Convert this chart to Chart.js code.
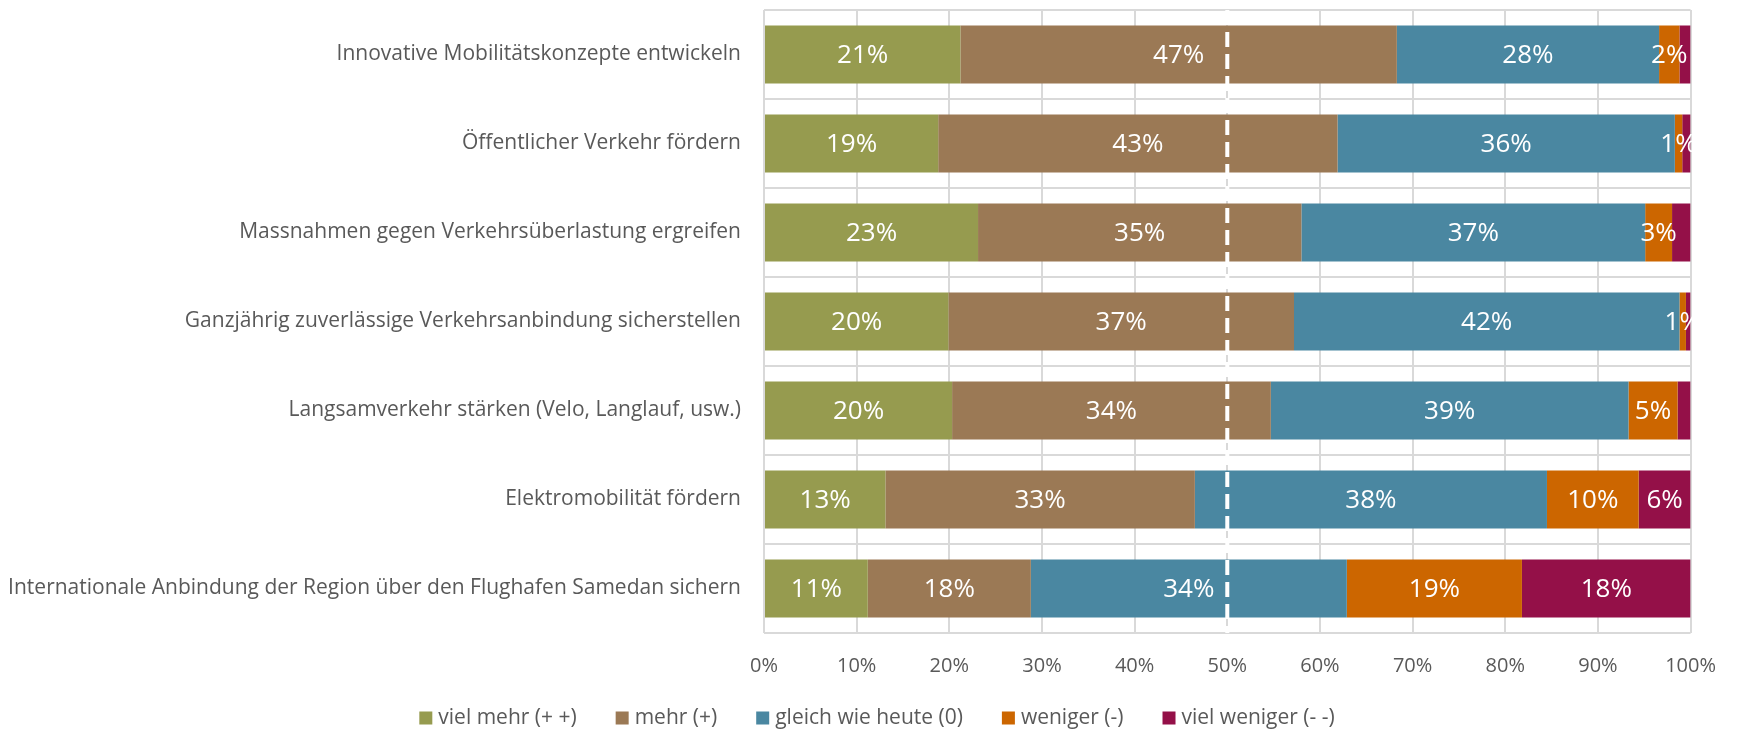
<!DOCTYPE html>
<html>
<head>
<meta charset="utf-8">
<script src="https://cdn.jsdelivr.net/npm/chart.js@4.4.1/dist/chart.umd.min.js"></script>
<style>
  html, body { margin: 0; padding: 0; background: #ffffff; }
  #wrap { width: 1737px; height: 731px; }
</style>
</head>
<body>
<div id="wrap"><canvas id="c" width="1737" height="731"></canvas></div>
<script>
// ---- data ----
const categories = [
  'Innovative Mobilitätskonzepte entwickeln',
  'Öffentlicher Verkehr fördern',
  'Massnahmen gegen Verkehrsüberlastung ergreifen',
  'Ganzjährig zuverlässige Verkehrsanbindung sicherstellen',
  'Langsamverkehr stärken (Velo, Langlauf, usw.)',
  'Elektromobilität fördern',
  'Internationale Anbindung der Region über den Flughafen Samedan sichern'
];
const seriesNames = ['viel mehr (+ +)', 'mehr (+)', 'gleich wie heute (0)', 'weniger (-)', 'viel weniger (- -)'];
const vielMehr    = [21.2, 18.8, 23.1, 19.9, 20.3, 13.1, 11.2];
const mehr        = [47.1, 43.1, 34.9, 37.3, 34.4, 33.4, 17.6];
const gleich      = [28.3, 36.4, 37.1, 41.6, 38.6, 38.0, 34.1];
const weniger     = [ 2.2,  0.8,  2.9,  0.7,  5.3,  9.9, 18.9];
const vielWeniger = [ 1.2,  0.9,  2.0,  0.5,  1.4,  5.6, 18.2];
// which segments carry a value label in the reference
const labelShown = [
  [true, true, true, true, true, true, true],
  [true, true, true, true, true, true, true],
  [true, true, true, true, true, true, true],
  [true, true, true, true, true, true, true],
  [false, false, false, false, false, true, true]
];
const xTicks = [0, 10, 20, 30, 40, 50, 60, 70, 80, 90, 100];

const colors = ['#969B4F', '#9B7955', '#4A87A1', '#CC6600', '#941048'];
const FONT = "'Open Sans', sans-serif";
const TEXT_COLOR = '#595959';

const seriesValues = [vielMehr, mehr, gleich, weniger, vielWeniger];

const valueLabels = {
  id: 'valueLabels',
  afterDatasetsDraw(chart) {
    const ctx = chart.ctx;
    ctx.save();
    ctx.fillStyle = '#ffffff';
    ctx.font = '26px ' + FONT;
    ctx.textAlign = 'center';
    ctx.textBaseline = 'middle';
    chart.data.datasets.forEach((ds, di) => {
      const meta = chart.getDatasetMeta(di);
      meta.data.forEach((bar, i) => {
        if (!labelShown[di][i]) return;
        const v = ds.data[i];
        const cx = (bar.x + bar.base) / 2;
        ctx.fillText(Math.round(v) + '%', cx, bar.y + 1);
      });
    });
    ctx.restore();
  }
};

const midLine = {
  id: 'midLine',
  afterDatasetsDraw(chart) {
    const ctx = chart.ctx;
    const xs = chart.scales.x;
    const a = chart.chartArea;
    const x = xs.getPixelForValue(50);
    ctx.save();
    ctx.strokeStyle = '#ffffff';
    ctx.lineWidth = 4;
    ctx.setLineDash([15, 7]);
    ctx.beginPath();
    ctx.moveTo(x, a.top);
    ctx.lineTo(x, a.bottom);
    ctx.stroke();
    ctx.restore();
  }
};

// legend drawn on the canvas from the chart's datasets
const bottomLegend = {
  id: 'bottomLegend',
  afterDraw(chart) {
    const ctx = chart.ctx;
    const box = 13, gapText = 6, gapItem = 39;
    ctx.save();
    ctx.font = '21px ' + FONT;
    ctx.textBaseline = 'middle';
    ctx.textAlign = 'left';
    const items = chart.data.datasets.map(d => ({ text: d.label, color: d.backgroundColor, w: ctx.measureText(d.label).width }));
    let total = 0;
    items.forEach((it, i) => { total += box + gapText + it.w + (i < items.length - 1 ? gapItem : 0); });
    let x = 877 - total / 2;
    const cy = 718;
    items.forEach(it => {
      ctx.fillStyle = it.color;
      ctx.fillRect(x, cy - box / 2, box, box);
      x += box + gapText;
      ctx.fillStyle = TEXT_COLOR;
      ctx.fillText(it.text, x, cy);
      x += it.w + gapItem;
    });
    ctx.restore();
  }
};

new Chart(document.getElementById('c'), {
  type: 'bar',
  data: {
    labels: categories,
    datasets: seriesNames.map((n, i) => ({
      label: n,
      data: seriesValues[i],
      backgroundColor: colors[i],
      borderWidth: 0,
      barPercentage: 1,
      categoryPercentage: 0.65
    }))
  },
  options: {
    indexAxis: 'y',
    responsive: false,
    animation: false,
    devicePixelRatio: 1,
    layout: { padding: { left: 0, right: 43, top: 10, bottom: 38 } },
    scales: {
      x: {
        stacked: true,
        min: 0,
        max: 100,
        afterBuildTicks(scale) { scale.ticks = xTicks.map(v => ({ value: v })); },
        afterFit(scale) { scale.height = 60; },
        ticks: {
          callback: v => v + '%',
          color: TEXT_COLOR,
          font: { family: FONT, size: 20 },
          padding: 21
        },
        grid: { color: '#d9d9d9', lineWidth: 2, drawTicks: false },
        border: { display: false }
      },
      y: {
        stacked: true,
        afterFit(scale) { scale.width = 764; scale.paddingTop = 0; scale.paddingBottom = 0; },
        ticks: {
          color: TEXT_COLOR,
          font: { family: FONT, size: 21 },
          padding: 23
        },
        grid: { color: '#d9d9d9', lineWidth: 2, drawTicks: false, offset: true },
        border: { display: false }
      }
    },
    plugins: {
      legend: { display: false },
      tooltip: { enabled: false }
    }
  },
  plugins: [midLine, valueLabels, bottomLegend]
});
</script>
</body>
</html>
